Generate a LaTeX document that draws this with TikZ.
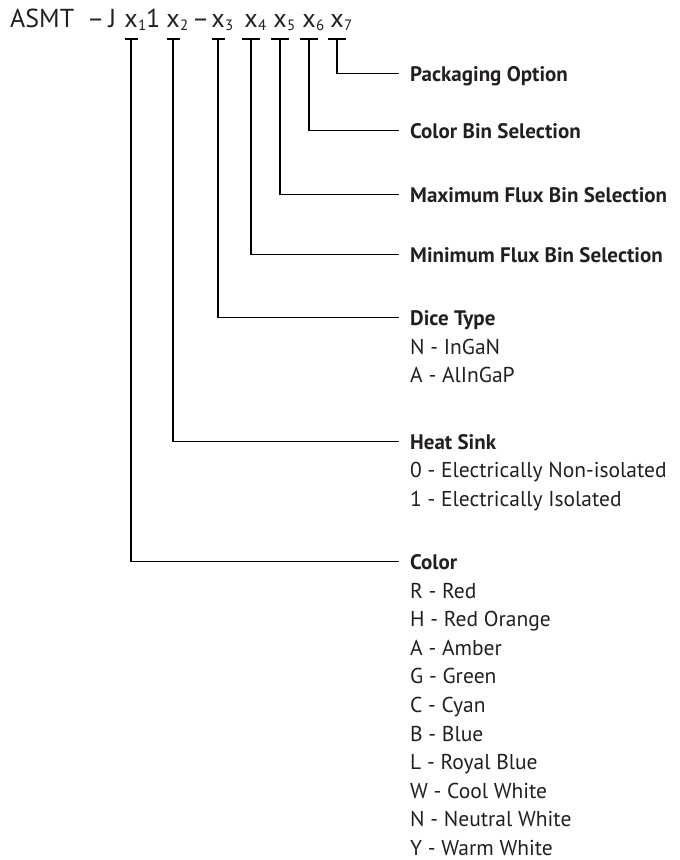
\documentclass[tikz,border=0pt]{standalone}
\usepackage{fontspec}
\setmainfont{PT Sans}
\usetikzlibrary{positioning}
\definecolor{ink}{HTML}{231F20}
\newcommand{\digitsub}[1]{\rlap{\kern0.5pt\raisebox{-3pt}{\fontsize{15}{15}\selectfont #1}}}

\begin{document}
\begin{tikzpicture}[x=1pt,y=-1pt,
    code/.style={anchor=base,inner sep=0pt,text=ink,font=\fontsize{26}{26}\selectfont},
    head/.style={anchor=base west,inner sep=0pt,text=ink,text height=15pt,text depth=0pt,font=\bfseries\fontsize{21}{21}\selectfont},
    item/.style={anchor=base west,inner sep=0pt,text=ink,font=\fontsize{21.5}{21.5}\selectfont},
    lead/.style={line width=1.6pt},
    tick/.style={line width=2pt}]
\useasboundingbox (0,0) rectangle (680,860);

% part number
\node[code,anchor=base west] (asmt) at (10,27) {ASMT};
\node[code,anchor=base west] (dashj) at (87,27) {–\,J};
\node[code] (x1) at (131,27) {x\digitsub{1}};
\node[code,anchor=base west] (one) at (146,27) {1};
\node[code] (x2) at (173,27) {x\digitsub{2}};
\node[code,anchor=base west] (dash) at (192,27) {–};
\node[code] (x3) at (218,27) {x\digitsub{3}};
\node[code] (x4) at (251,27) {x\digitsub{4}};
\node[code] (x5) at (280,27) {x\digitsub{5}};
\node[code] (x6) at (309,27) {x\digitsub{6}};
\node[code] (x7) at (337,27) {x\digitsub{7}};

% field headings
\node[head] (pack) at (410,81) {Packaging Option};
\node[head] (cbin) at (410,138) {Color Bin Selection};
\node[head] (maxflux) at (410,202) {Maximum Flux Bin Selection};
\node[head] (minflux) at (410,262) {Minimum Flux Bin Selection};
\node[head] (dice) at (410,325) {Dice Type};
\node[head] (sink) at (410,449) {Heat Sink};
\node[head] (color) at (410,569) {Color};

% field values
\node[item] (diceN) at (410,354) {N - InGaN};
\node[item] (diceA) at (410,382) {A - AlInGaP};
\node[item] (sink0) at (410,477) {0 - Electrically Non-isolated};
\node[item] (sink1) at (410,506) {1 - Electrically Isolated};
\node[item] (colR) at (410,598) {R - Red};
\node[item] (colH) at (410,626.6) {H - Red Orange};
\node[item] (colA) at (410,655.2) {A - Amber};
\node[item] (colG) at (410,683.8) {G - Green};
\node[item] (colC) at (410,712.4) {C - Cyan};
\node[item] (colB) at (410,741) {B - Blue};
\node[item] (colL) at (410,769.6) {L - Royal Blue};
\node[item] (colW) at (410,798.2) {W - Cool White};
\node[item] (colN) at (410,826.8) {N - Neutral White};
\node[item] (colY) at (410,855.4) {Y - Warm White};

% ticks under the digits
\draw[tick] ([xshift=-6.5pt,yshift=-12pt]x1.base) -- ([xshift=6.5pt,yshift=-12pt]x1.base);
\draw[tick] ([xshift=-6.5pt,yshift=-12pt]x2.base) -- ([xshift=6.5pt,yshift=-12pt]x2.base);
\draw[tick] ([xshift=-6.5pt,yshift=-12pt]x3.base) -- ([xshift=6.5pt,yshift=-12pt]x3.base);
\draw[tick] ([xshift=-9pt,yshift=-12pt]x4.base) -- ([xshift=9pt,yshift=-12pt]x4.base);
\draw[tick] ([xshift=-9pt,yshift=-12pt]x5.base) -- ([xshift=9pt,yshift=-12pt]x5.base);
\draw[tick] ([xshift=-9pt,yshift=-12pt]x6.base) -- ([xshift=9pt,yshift=-12pt]x6.base);
\draw[tick] ([xshift=-9pt,yshift=-12pt]x7.base) -- ([xshift=9pt,yshift=-12pt]x7.base);

% leaders
\draw[lead] ([yshift=-12pt]x7.base) |- ([xshift=-11pt]pack.west);
\draw[lead] ([yshift=-12pt]x6.base) |- ([xshift=-11pt]cbin.west);
\draw[lead] ([yshift=-12pt]x5.base) |- ([xshift=-11pt]maxflux.west);
\draw[lead] ([yshift=-12pt]x4.base) |- ([xshift=-11pt]minflux.west);
\draw[lead] ([yshift=-12pt]x3.base) |- ([xshift=-11pt]dice.west);
\draw[lead] ([yshift=-12pt]x2.base) |- ([xshift=-11pt]sink.west);
\draw[lead] ([yshift=-12pt]x1.base) |- ([xshift=-11pt]color.west);
\end{tikzpicture}
\end{document}
